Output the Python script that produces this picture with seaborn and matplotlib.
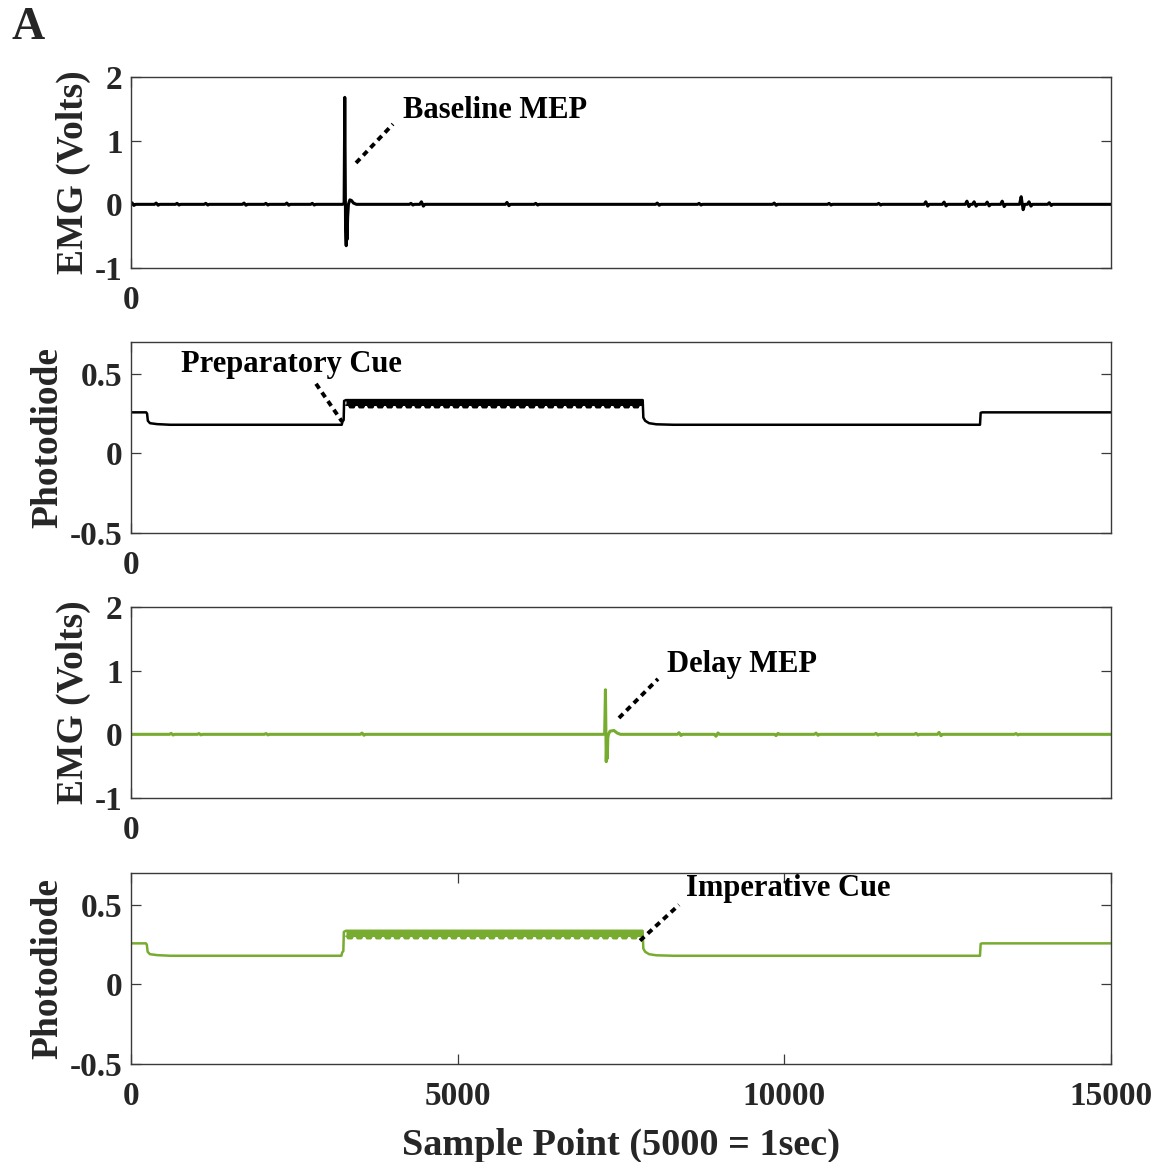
import numpy as np
import pandas as pd
import matplotlib
matplotlib.use("Agg")
import matplotlib.pyplot as plt
import seaborn as sns

# Recording window: 15000 samples at 5000 Hz
X_MAX = 15000

# ---- EMG, baseline trial: MEP waveform vertices (sample, volts)
mep_base_x = [3240, 3262, 3272, 3284, 3294, 3300, 3308, 3316, 3328, 3350, 3375, 3405, 3450]
mep_base_y = [0.0, 0.02, 1.68, -0.35, -0.65, -0.15, -0.55, -0.2, 0.0, 0.07, 0.06, 0.02, 0.0]
# small background deflections (sample, peak volts)
blip_base_pos = [30, 400, 720, 1160, 1745, 2080, 2400, 2790, 4300, 4460, 5770, 6210,
                 8070, 8710, 9860, 10700, 11460, 12180, 12460, 12810, 12920, 13120,
                 13350, 13640, 13760, 14070]
blip_base_amp = [0.025, 0.02, 0.015, 0.015, 0.02, 0.015, 0.02, 0.015, 0.015, 0.04, 0.03, 0.015,
                 0.02, 0.015, 0.02, 0.015, 0.015, 0.04, 0.035, 0.05, 0.04, 0.035,
                 0.05, 0.12, 0.04, 0.025]

# ---- EMG, delay trial
mep_delay_x = [7230, 7250, 7262, 7274, 7282, 7290, 7298, 7308, 7332, 7392, 7442, 7492]
mep_delay_y = [0.0, 0.02, 0.70, -0.43, -0.1, -0.38, -0.05, 0.0, 0.05, 0.06, 0.02, 0.0]
blip_delay_pos = [630, 1056, 2082, 3551, 8403, 8969, 9888, 10500, 11418, 12031, 12383, 13561]
blip_delay_amp = [0.015, 0.012, 0.012, 0.02, 0.025, -0.03, -0.02, 0.02, 0.015, 0.015, 0.03, 0.012]

# ---- Photodiode, preparatory cue trial (upper envelope vertices)
pd_prep_x = [0, 232, 246, 258, 290, 400, 600, 3225, 3238, 3255, 3262, 3290,
             7832, 7842, 7870, 7930, 8040, 8300, 12995, 13005, 13030, 15000]
pd_prep_y = [0.258, 0.258, 0.25, 0.205, 0.19, 0.184, 0.18, 0.18, 0.2, 0.21, 0.33, 0.335,
             0.335, 0.225, 0.205, 0.19, 0.183, 0.18, 0.18, 0.255, 0.258, 0.258]
# flicker ripple troughs during the cue
dips_prep = [3380, 3525, 3668, 3815, 3958, 4105, 4250, 4392, 4540, 4683, 4830, 4975,
             5118, 5265, 5410, 5553, 5700, 5845, 5988, 6135, 6280, 6423, 6570, 6715,
             6858, 7005, 7150, 7293, 7440, 7585, 7728]

# ---- Photodiode, imperative cue trial
pd_imp_x = [0, 228, 242, 255, 290, 400, 600, 3220, 3232, 3250, 3258, 3290,
            7830, 7842, 7870, 7930, 8040, 8300, 12995, 13005, 13030, 15000]
pd_imp_y = [0.258, 0.258, 0.25, 0.205, 0.19, 0.184, 0.18, 0.18, 0.2, 0.21, 0.33, 0.337,
            0.337, 0.225, 0.205, 0.19, 0.183, 0.18, 0.18, 0.255, 0.258, 0.258]
dips_imp = [3350, 3495, 3640, 3785, 3930, 4072, 4218, 4362, 4508, 4652, 4798, 4942,
            5088, 5232, 5378, 5522, 5668, 5812, 5958, 6102, 6248, 6392, 6538, 6682,
            6828, 6972, 7118, 7262, 7408, 7552, 7698]

BAND_TOP = 0.335
BAND_LOW = 0.303
DIP_LOW = 0.288

BLACK = "#000000"
GREEN = "#77AC30"
AX_COLOR = "#262626"

sns.set_theme(style="ticks")
plt.rcParams["font.family"] = ["Liberation Serif", "DejaVu Serif"]
plt.rcParams["font.weight"] = "bold"
plt.rcParams["axes.unicode_minus"] = False


def emg_frame(mep_x, mep_y, blip_pos, blip_amp):
    pts = [(0, 0.0), (X_MAX, 0.0)] + list(zip(mep_x, mep_y))
    for p, a in zip(blip_pos, blip_amp):
        pts += [(p - 40, 0.0), (p - 15, a), (p + 15, -0.7 * a), (p + 40, 0.0)]
    pts.sort(key=lambda t: t[0])
    return pd.DataFrame(pts, columns=["sample", "value"])


def ripple_edge(dips, x0, x1):
    xs, ys = [x0], [BAND_LOW]
    for d in dips:
        xs += [d - 50, d - 30, d + 30, d + 50]
        ys += [BAND_LOW, DIP_LOW, DIP_LOW, BAND_LOW]
    xs.append(x1)
    ys.append(BAND_LOW)
    return np.array(xs), np.array(ys)


fig = plt.figure(figsize=(11.59, 11.62), dpi=100)
left, width, height = 131 / 1159, 980 / 1159, 191 / 1162
bottoms = [1 - 268 / 1162, 1 - 533 / 1162, 1 - 798 / 1162, 1 - 1064 / 1162]
axes = [fig.add_axes([left, b, width, height]) for b in bottoms]

TICK_FS = 24
LABEL_FS = 27
NOTE_FS = 22


def style_axes(ax, emg, bottom=False):
    ax.set_xlim(0, X_MAX)
    for s in ax.spines.values():
        s.set_visible(True)
        s.set_color("#3a3a3a")
        s.set_linewidth(1.0)
    ax.tick_params(direction="in", top=True, right=True, length=7, width=0.9,
                   color="#3a3a3a", labelsize=TICK_FS, labelcolor=AX_COLOR)
    ax.tick_params(axis="x", pad=12)
    ax.tick_params(axis="y", pad=6)
    if emg:
        ax.set_ylim(-1, 2)
        ax.set_yticks([-1, 0, 1, 2])
        ax.set_yticklabels(["-1", "0", "1", "2"])
        ax.set_ylabel("EMG (Volts)", fontsize=LABEL_FS, fontweight="bold",
                      color=AX_COLOR, labelpad=3)
    else:
        ax.set_ylim(-0.5, 0.7)
        ax.set_yticks([-0.5, 0, 0.5])
        ax.set_yticklabels(["-0.5", "0", "0.5"])
        ax.set_ylabel("Photodiode", fontsize=LABEL_FS, fontweight="bold",
                      color=AX_COLOR, labelpad=3)
    if bottom:
        ax.set_xticks([0, 5000, 10000, 15000])
        ax.set_xticklabels(["0", "5000", "10000", "15000"])
        ax.set_xlabel("Sample Point (5000 = 1sec)", fontsize=27.5, fontweight="bold",
                      color=AX_COLOR, labelpad=12)
    else:
        ax.set_xticks([0])
        ax.set_xticklabels(["0"])
        ax.set_xlabel("")
    for lab in ax.get_xticklabels() + ax.get_yticklabels():
        lab.set_fontweight("bold")


def note(ax, text, line_start, line_end, text_pos):
    ax.plot([line_start[0], line_end[0]], [line_start[1], line_end[1]],
            color="black", lw=2.8, linestyle=(0, (1.5, 1.2)), solid_capstyle="butt")
    ax.text(text_pos[0], text_pos[1], text, fontsize=NOTE_FS, fontweight="bold",
            ha="left", va="center", color="black")


# Panel 1: baseline EMG
ax = axes[0]
df = emg_frame(mep_base_x, mep_base_y, blip_base_pos, blip_base_amp)
sns.lineplot(data=df, x="sample", y="value", ax=ax, color=BLACK, lw=2.2,
             estimator=None, sort=False)
style_axes(ax, emg=True)
note(ax, "Baseline MEP", (3444, 0.65), (4010, 1.26), (4163, 1.47))

# Panel 2: photodiode, preparatory cue
ax = axes[1]
df = pd.DataFrame({"sample": pd_prep_x, "value": pd_prep_y})
sns.lineplot(data=df, x="sample", y="value", ax=ax, color=BLACK, lw=1.8,
             estimator=None, sort=False)
ex, ey = ripple_edge(dips_prep, 3290, 7832)
ax.fill_between(ex, ey, BAND_TOP, color=BLACK, lw=0)
ax.plot(ex, ey, color=BLACK, lw=1.2)
style_axes(ax, emg=False)
note(ax, "Preparatory Cue", (2832, 0.4375), (3230, 0.2), (765, 0.556))

# Panel 3: delay EMG
ax = axes[2]
df = emg_frame(mep_delay_x, mep_delay_y, blip_delay_pos, blip_delay_amp)
sns.lineplot(data=df, x="sample", y="value", ax=ax, color=GREEN, lw=2.2,
             estimator=None, sort=False)
style_axes(ax, emg=True)
note(ax, "Delay MEP", (7469, 0.257), (8066, 0.87), (8204, 1.10))

# Panel 4: photodiode, imperative cue
ax = axes[3]
df = pd.DataFrame({"sample": pd_imp_x, "value": pd_imp_y})
sns.lineplot(data=df, x="sample", y="value", ax=ax, color=GREEN, lw=1.8,
             estimator=None, sort=False)
ex, ey = ripple_edge(dips_imp, 3290, 7830)
ax.fill_between(ex, ey, BAND_TOP, color=GREEN, lw=0)
ax.plot(ex, ey, color=GREEN, lw=1.2)
style_axes(ax, emg=False, bottom=True)
note(ax, "Imperative Cue", (7791, 0.275), (8388, 0.5), (8495, 0.60))

fig.text(0.010, 0.994, "A", fontsize=33, fontweight="bold", ha="left", va="top")

fig.savefig("out.png", dpi=100)
